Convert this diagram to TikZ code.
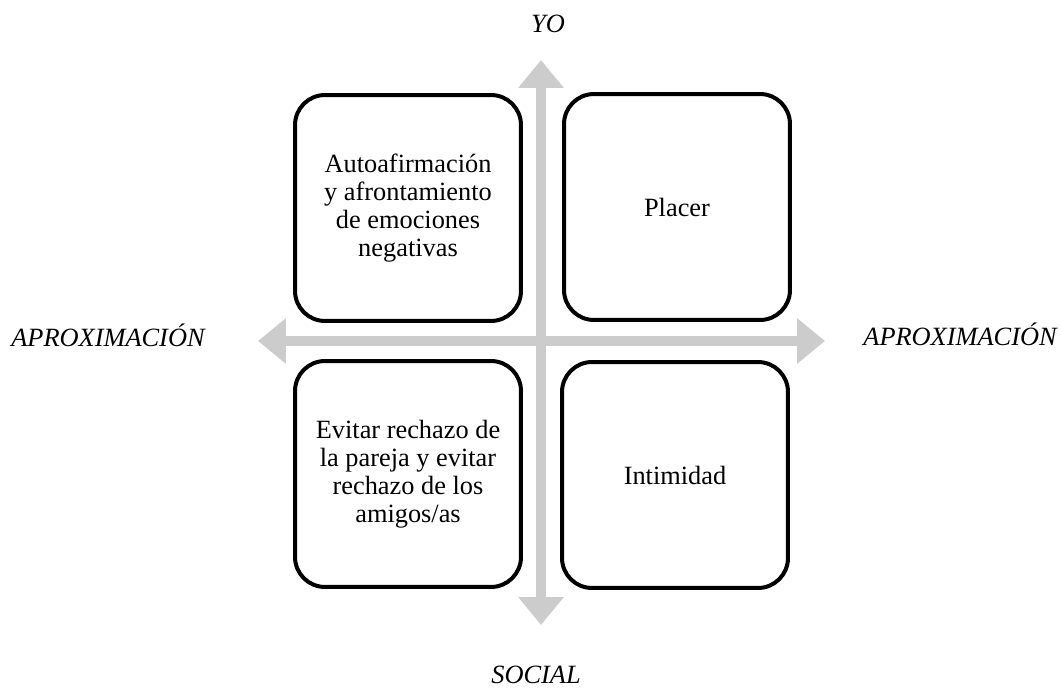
\documentclass[tikz,border=0pt]{standalone}
\usepackage{fontspec}
\setmainfont{Liberation Serif}
\usetikzlibrary{arrows.meta}
\definecolor{axisgray}{RGB}{204,204,204}
\tikzset{
  quadbox/.style={draw,line width=0.08cm,rounded corners=0.6cm,
    minimum width=4.52cm,minimum height=4.52cm,align=center,
    font=\fontsize{15}{16}\selectfont},
  axislabel/.style={anchor=base,font=\fontsize{15}{16}\selectfont\itshape},
  bigarrow/.style={axisgray,line width=0.2cm,
    {Triangle[width=0.88cm,length=0.56cm]}-{Triangle[width=0.88cm,length=0.56cm]}}
}

\begin{document}
\begin{tikzpicture}[x=0.02cm,y=-0.02cm]
	\useasboundingbox (0,0) rectangle (1061,692);
	% ends of the axes
	\coordinate (top) at (541,60);
	\coordinate (bottom) at (541,625);
	\coordinate (left) at (258,341);
	\coordinate (right) at (825,341);
	\draw[bigarrow] (top) -- (bottom);
	\draw[bigarrow] (left) -- (right);
	% quadrants
	\node[quadbox] (autoaf) at (408,208) {Autoafirmación\\y afrontamiento\\de emociones\\negativas};
	\node[quadbox] (placer) at (677,207) {Placer};
	\node[quadbox] (evitar) at (408,474) {Evitar rechazo de\\la pareja y evitar\\rechazo de los\\amigos/as};
	\node[quadbox] (intim) at (675,475) {Intimidad};
	% labels
	\node[axislabel] (yo) at (548,33) {YO};
	\node[axislabel] (social) at (536,683) {SOCIAL};
	\node[axislabel] (aproxl) at (108,347) {APROXIMACIÓN};
	\node[axislabel] (aproxr) at (960,346) {APROXIMACIÓN};
\end{tikzpicture}
\end{document}
